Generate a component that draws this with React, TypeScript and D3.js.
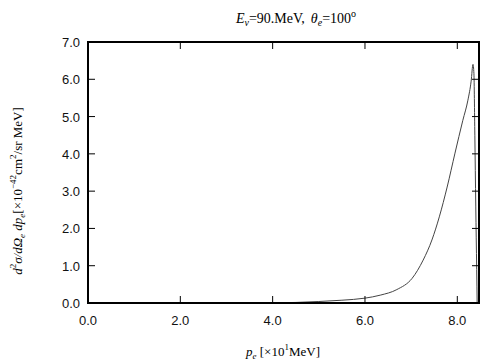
import * as d3 from "d3";

const momentum = [4.0, 4.5, 5.0, 5.5, 6.0, 6.33, 6.69, 7.02, 7.26, 7.45, 7.61, 7.78, 7.95, 8.12, 8.23, 8.3, 8.34, 8.36, 8.38, 8.4, 8.42, 8.43];
const crossSection = [0.005, 0.015, 0.04, 0.075, 0.13, 0.21, 0.36, 0.66, 1.15, 1.69, 2.31, 3.11, 4.02, 4.9, 5.44, 5.95, 6.4, 6.15, 4.5, 2.6, 0.9, 0.0];
const xTicks = [0, 2, 4, 6, 8];
const yTicks = [0, 1, 2, 3, 4, 5, 6, 7];

export default function App() {
  const width = 504;
  const height = 360;
  const left = 88, right = 479, top = 42, bottom = 303;

  const x = d3.scaleLinear().domain([0, 8.47]).range([left, right]);
  const y = d3.scaleLinear().domain([0, 7]).range([bottom, top]);

  const pts = momentum.map((p, i) => [p, crossSection[i]] as [number, number]);
  const line = d3.line<[number, number]>()
    .x(d => x(d[0]))
    .y(d => y(d[1]))
    .curve(d3.curveMonotoneX);

  const sans = "'Liberation Sans', Arial, sans-serif";
  const serif = "'Liberation Serif', 'Times New Roman', serif";

  return (
    <svg width={width} height={height} style={{ position: "absolute", left: 0, top: 0, background: "#fff" }}>
      <path d={line(pts) ?? ""} fill="none" stroke="#444" strokeWidth={1} />

      {xTicks.map(t => (
        <g key={"x" + t}>
          <line x1={x(t)} x2={x(t)} y1={bottom} y2={bottom - 7} stroke="#000" />
          <line x1={x(t)} x2={x(t)} y1={top} y2={top + 7} stroke="#000" />
          <text x={x(t)} y={325} textAnchor="middle" fontFamily={sans} fontSize={13} fill="#111">{t.toFixed(1)}</text>
        </g>
      ))}
      {yTicks.map(t => (
        <g key={"y" + t}>
          <line x1={left} x2={left + 7} y1={y(t)} y2={y(t)} stroke="#000" />
          <line x1={right} x2={right - 7} y1={y(t)} y2={y(t)} stroke="#000" />
          <text x={80} y={y(t) + 5} textAnchor="end" fontFamily={sans} fontSize={13} fill="#111">{t.toFixed(1)}</text>
        </g>
      ))}

      <rect x={left} y={top} width={right - left} height={bottom - top} fill="none" stroke="#000" strokeWidth={2} />

      <text x={296} y={23} textAnchor="middle" fontFamily={serif} fontSize={14}>
        <tspan fontStyle="italic">E</tspan>
        <tspan fontStyle="italic" fontSize={10} dy={3}>ν</tspan>
        <tspan dy={-3}>=90.MeV,</tspan>
        <tspan dx={6} fontStyle="italic">θ</tspan>
        <tspan fontStyle="italic" fontSize={10} dy={3}>e</tspan>
        <tspan dy={-3}>=100</tspan>
        <tspan fontSize={10} dy={-6}>o</tspan>
      </text>

      <text x={283} y={356} textAnchor="middle" fontFamily={serif} fontSize={13}>
        <tspan fontStyle="italic">p</tspan>
        <tspan fontStyle="italic" fontSize={9} dy={3}>e</tspan>
        <tspan dy={-3}> [×10</tspan>
        <tspan fontSize={9} dy={-6}>1</tspan>
        <tspan dy={6}>MeV]</tspan>
      </text>

      <text transform="translate(22,191) rotate(-90)" textAnchor="middle" fontFamily={serif} fontSize={13}>
        <tspan fontStyle="italic">d</tspan>
        <tspan fontSize={9} dy={-6}>2</tspan>
        <tspan fontStyle="italic" dy={6}>σ/d</tspan>
        <tspan fontStyle="italic">Ω</tspan>
        <tspan fontStyle="italic" fontSize={9} dy={3}>e</tspan>
        <tspan fontStyle="italic" dy={-3}> dp</tspan>
        <tspan fontStyle="italic" fontSize={9} dy={3}>e</tspan>
        <tspan dy={-3}>[×10</tspan>
        <tspan fontSize={9} dy={-6}>−42</tspan>
        <tspan dy={6}>cm</tspan>
        <tspan fontSize={9} dy={-6}>2</tspan>
        <tspan dy={6}>/sr MeV]</tspan>
      </text>
    </svg>
  );
}
